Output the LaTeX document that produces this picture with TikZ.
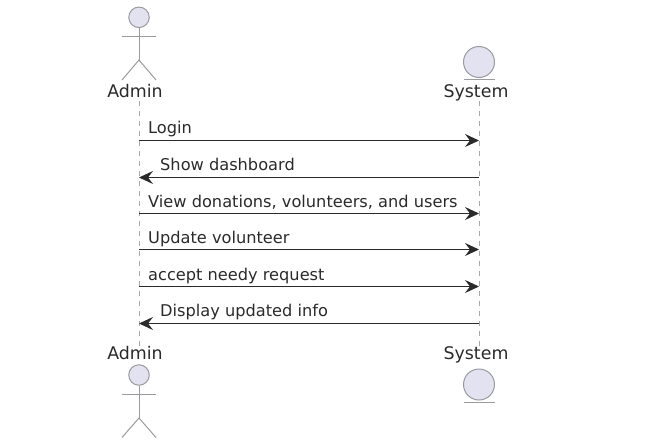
\documentclass[tikz,border=0pt]{standalone}
\usepackage{fontspec}
\setmainfont{DejaVu Sans}
\usetikzlibrary{arrows.meta}
\definecolor{partfill}{HTML}{E2E2F0}
\definecolor{partline}{HTML}{9A9AA0}
\definecolor{lifec}{HTML}{A8A8A8}
\definecolor{inkc}{HTML}{2A2A2A}
\tikzset{
  x=1pt,y=-1pt,
  lifeline/.style={draw=lifec,line width=1pt,dash pattern=on 5pt off 5pt},
  figure/.style={draw=partline,line width=1pt},
  headc/.style={circle,draw=partline,fill=partfill,line width=1pt,inner sep=0pt},
  partlabel/.style={font=\fontsize{17.4}{20}\selectfont,text=inkc,inner sep=0pt,anchor=base},
  msglabel/.style={font=\fontsize{16.2}{18}\selectfont,text=inkc,inner sep=0pt,anchor=base west},
  msg/.style={draw=inkc,line width=1.1pt,-{Stealth[length=14pt,width=13pt,inset=5pt]}},
}
\begin{document}
\begin{tikzpicture}
\useasboundingbox (0,0) rectangle (661,442);
% lifelines
\coordinate (at) at (139,101);
\coordinate (ab) at (139,346);
\coordinate (st) at (479,101);
\coordinate (sb) at (479,346);
\draw[lifeline] (at) -- (ab);
\draw[lifeline] (st) -- (sb);
% Admin top
\node[headc,minimum size=20.5pt] (ah1) at (139,17.3) {};
\coordinate (ah1b) at (139,60);
\coordinate (ah1l) at (122,36.7);
\coordinate (ah1r) at (156,36.7);
\coordinate (ah1ll) at (122,80);
\coordinate (ah1rl) at (156,80);
\draw[figure] (ah1.south) -- (ah1b);
\draw[figure] (ah1l) -- (ah1r);
\draw[figure] (ah1ll) -- (ah1b) -- (ah1rl);
\node[partlabel] (al1) at (135,97) {Admin};
% System top
\node[headc,minimum size=31pt] (sc1) at (479,62) {};
\coordinate (su1l) at (464,79);
\coordinate (su1r) at (494.5,79);
\draw[figure] (su1l) -- (su1r);
\node[partlabel] (sl1) at (476,97) {System};
% Messages
\coordinate (a1) at (139,140.5); \coordinate (s1) at (479,140.5);
\coordinate (a2) at (139,177.5); \coordinate (s2) at (479,177.5);
\coordinate (a3) at (139,213.5); \coordinate (s3) at (479,213.5);
\coordinate (a4) at (139,249.5); \coordinate (s4) at (479,249.5);
\coordinate (a5) at (139,286.5); \coordinate (s5) at (479,286.5);
\coordinate (a6) at (139,323.5); \coordinate (s6) at (479,323.5);
\draw[msg] (a1) -- (s1);
\draw[msg] (s2) -- (a2);
\draw[msg] (a3) -- (s3);
\draw[msg] (a4) -- (s4);
\draw[msg] (a5) -- (s5);
\draw[msg] (s6) -- (a6);
\node[msglabel] (m1) at (148,133.5) {Login};
\node[msglabel] (m2) at (160,170) {Show dashboard};
\node[msglabel] (m3) at (148,207) {View donations, volunteers, and users};
\node[msglabel] (m4) at (148,243.5) {Update volunteer};
\node[msglabel] (m5) at (148,280) {accept needy request};
\node[msglabel] (m6) at (160,316.5) {Display updated info};
% Admin bottom
\node[partlabel] (al2) at (135,359.5) {Admin};
\node[headc,minimum size=20.5pt] (ah2) at (139,375) {};
\coordinate (ah2b) at (139,418);
\coordinate (ah2l) at (122,394.6);
\coordinate (ah2r) at (156,394.6);
\coordinate (ah2ll) at (122,437.5);
\coordinate (ah2rl) at (156,437.5);
\draw[figure] (ah2.south) -- (ah2b);
\draw[figure] (ah2l) -- (ah2r);
\draw[figure] (ah2ll) -- (ah2b) -- (ah2rl);
% System bottom
\node[partlabel] (sl2) at (476,359.5) {System};
\node[headc,minimum size=31pt] (sc2) at (479,384.5) {};
\coordinate (su2l) at (464,402);
\coordinate (su2r) at (494.5,402);
\draw[figure] (su2l) -- (su2r);
\end{tikzpicture}
\end{document}
